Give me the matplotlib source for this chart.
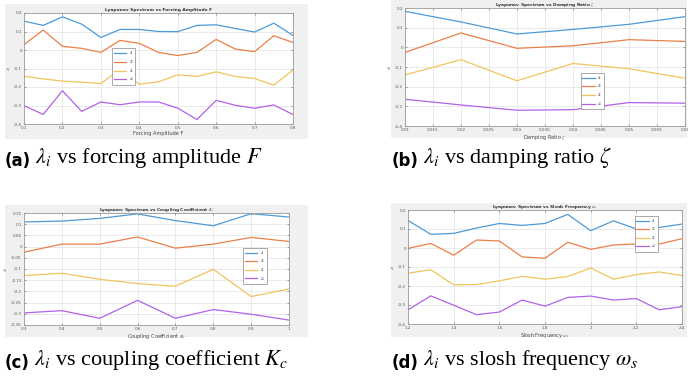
import matplotlib
matplotlib.use("Agg")
import matplotlib.pyplot as plt
from matplotlib.patches import Rectangle

W, H = 688, 381

# ---- data ----
F = [0.1, 0.15, 0.2, 0.25, 0.3, 0.35, 0.4, 0.45, 0.5, 0.55, 0.6, 0.65, 0.7, 0.75, 0.8]
F_l1 = [0.156, 0.133, 0.179, 0.140, 0.068, 0.111, 0.111, 0.100, 0.099, 0.133, 0.136, 0.116, 0.097, 0.145, 0.079]
F_l2 = [0.029, 0.108, 0.020, 0.009, -0.013, 0.052, 0.036, -0.013, -0.030, -0.013, 0.057, 0.005, -0.009, 0.077, 0.041]
F_l3 = [-0.142, -0.156, -0.168, -0.174, -0.181, -0.104, -0.185, -0.172, -0.134, -0.143, -0.118, -0.143, -0.154, -0.190, -0.108]
F_l4 = [-0.301, -0.348, -0.220, -0.332, -0.281, -0.296, -0.281, -0.281, -0.314, -0.376, -0.272, -0.299, -0.315, -0.297, -0.349]

zeta = [0.01, 0.02, 0.03, 0.04, 0.05, 0.06]
z_l1 = [0.183, 0.129, 0.068, 0.091, 0.117, 0.156]
z_l2 = [-0.026, 0.073, -0.005, 0.008, 0.039, 0.030]
z_l3 = [-0.140, -0.063, -0.170, -0.082, -0.109, -0.157]
z_l4 = [-0.264, -0.293, -0.320, -0.317, -0.281, -0.284]

Kc = [0.3, 0.4, 0.5, 0.6, 0.7, 0.8, 0.9, 1.0]
K_l1 = [0.110, 0.114, 0.126, 0.146, 0.116, 0.093, 0.147, 0.132]
K_l2 = [-0.025, 0.011, 0.011, 0.043, -0.007, 0.011, 0.041, 0.023]
K_l3 = [-0.129, -0.119, -0.146, -0.165, -0.177, -0.101, -0.223, -0.189]
K_l4 = [-0.296, -0.286, -0.320, -0.240, -0.320, -0.281, -0.302, -0.328]

ws = [1.2, 1.3, 1.4, 1.5, 1.6, 1.7, 1.8, 1.9, 2.0, 2.1, 2.2, 2.3, 2.4]
w_l1 = [0.145, 0.072, 0.077, 0.105, 0.129, 0.119, 0.129, 0.177, 0.091, 0.143, 0.100, 0.108, 0.126]
w_l2 = [-0.002, 0.024, -0.038, 0.042, 0.037, -0.047, -0.054, 0.030, -0.007, 0.016, 0.021, 0.021, 0.049]
w_l3 = [-0.133, -0.114, -0.194, -0.192, -0.173, -0.149, -0.164, -0.150, -0.105, -0.164, -0.140, -0.126, -0.145]
w_l4 = [-0.325, -0.252, -0.301, -0.351, -0.337, -0.274, -0.306, -0.260, -0.253, -0.274, -0.266, -0.325, -0.309]

names = [r'$\lambda_1$', r'$\lambda_2$', r'$\lambda_3$', r'$\lambda_4$']
colors = ['#4c9bd8', '#ea8048', '#f1c35c', '#b262e6']

panels = [
    dict(x=F, ys=[F_l1, F_l2, F_l3, F_l4],
         title='Lyapunov Spectrum vs Forcing Amplitude F', xlabel='Forcing Amplitude F',
         xlim=(0.1, 0.8), xt=[0.1, 0.2, 0.3, 0.4, 0.5, 0.6, 0.7, 0.8], xtl=None,
         ylim=(-0.4, 0.2), yt=[-0.4, -0.3, -0.2, -0.1, 0, 0.1, 0.2],
         bg=(5, 4, 308, 139), ax=(24, 13, 293, 124), leg=(0.32, 0.70),
         cap='(a)', caprest=r'$\lambda_i$ vs forcing amplitude $F$', cap_xy=(5, 166)),
    dict(x=zeta, ys=[z_l1, z_l2, z_l3, z_l4],
         title=r'Lyapunov Spectrum vs Damping Ratio $\zeta$', xlabel=r'Damping Ratio $\zeta$',
         xlim=(0.01, 0.06), xt=[0.01, 0.015, 0.02, 0.025, 0.03, 0.035, 0.04, 0.045, 0.05, 0.055, 0.06],
         xtl=['0.01', '0.015', '0.02', '0.025', '0.03', '0.035', '0.04', '0.045', '0.05', '0.055', '0.06'],
         ylim=(-0.4, 0.2), yt=[-0.4, -0.3, -0.2, -0.1, 0, 0.1, 0.2],
         bg=(391, 0, 687, 138), ax=(405, 8, 685, 126), leg=(0.62, 0.47),
         cap='(b)', caprest=r'$\lambda_i$ vs damping ratio $\zeta$', cap_xy=(392, 166)),
    dict(x=Kc, ys=[K_l1, K_l2, K_l3, K_l4],
         title=r'Lyapunov Spectrum vs Coupling Coefficient $K_c$', xlabel=r'Coupling Coefficient $K_c$',
         xlim=(0.3, 1.0), xt=[0.3, 0.4, 0.5, 0.6, 0.7, 0.8, 0.9, 1.0],
         xtl=['0.3', '0.4', '0.5', '0.6', '0.7', '0.8', '0.9', '1'],
         ylim=(-0.35, 0.15), yt=[-0.35, -0.3, -0.25, -0.2, -0.15, -0.1, -0.05, 0, 0.05, 0.1, 0.15],
         bg=(5, 205, 308, 337), ax=(24, 213, 289, 325), leg=(0.82, 0.71),
         cap='(c)', caprest=r'$\lambda_i$ vs coupling coefficient $K_c$', cap_xy=(5, 368)),
    dict(x=ws, ys=[w_l1, w_l2, w_l3, w_l4],
         title=r'Lyapunov Spectrum vs Slosh Frequency $\omega_s$', xlabel=r'Slosh Frequency $\omega_s$',
         xlim=(1.2, 2.4), xt=[1.2, 1.4, 1.6, 1.8, 2.0, 2.2, 2.4],
         xtl=['1.2', '1.4', '1.6', '1.8', '2', '2.2', '2.4'],
         ylim=(-0.4, 0.2), yt=[-0.4, -0.3, -0.2, -0.1, 0, 0.1, 0.2],
         bg=(391, 203, 687, 337), ax=(408, 210, 682, 324), leg=(0.82, 0.97),
         cap='(d)', caprest=r'$\lambda_i$ vs slosh frequency $\omega_s$', cap_xy=(392, 368)),
]

plt.rcParams['mathtext.fontset'] = 'stix'

fig = plt.figure(figsize=(W / 100, H / 100), dpi=100)
fig.patch.set_facecolor('white')


def fy(py):
    return 1 - py / H


for p in panels:
    x0, y0, x1, y1 = p['bg']
    fig.patches.append(Rectangle((x0 / W, fy(y1)), (x1 - x0) / W, (y1 - y0) / H,
                                 transform=fig.transFigure, facecolor='#f0f0f0',
                                 edgecolor='none', zorder=-5))
    a0, b0, a1, b1 = p['ax']
    ax = fig.add_axes([a0 / W, fy(b1), (a1 - a0) / W, (b1 - b0) / H])
    ax.set_zorder(2)
    ax.set_facecolor('white')
    for y, c, n in zip(p['ys'], colors, names):
        ax.plot(p['x'], y, color=c, lw=0.9, label=n)
    ax.set_xlim(*p['xlim'])
    ax.set_ylim(*p['ylim'])
    ax.set_xticks(p['xt'])
    if p['xtl'] is not None:
        ax.set_xticklabels(p['xtl'])
    ax.set_yticks(p['yt'])
    ax.set_yticklabels(['0' if abs(v) < 1e-9 else ('%g' % v) for v in p['yt']])
    ax.grid(True, color='#e2e2e2', lw=0.5)
    ax.set_axisbelow(True)
    ax.tick_params(labelsize=3, length=1.2, width=0.4, direction='in', pad=1.5,
                   colors='#555555', top=True, right=True)
    for s in ax.spines.values():
        s.set_color('#9a9a9a')
        s.set_linewidth(0.6)
    ax.set_title(p['title'], fontsize=3.2, fontweight='bold', color='#333333', pad=1.5)
    ax.set_xlabel(p['xlabel'], fontsize=3.6, color='#444444', labelpad=0.5)
    ax.set_ylabel(r'$\lambda_i$', fontsize=3.6, color='#444444', labelpad=1)
    leg = ax.legend(loc='upper left', bbox_to_anchor=p['leg'], fontsize=3,
                    handlelength=3.0, handletextpad=0.6, borderpad=0.35,
                    labelspacing=0.25, fancybox=False, framealpha=1)
    leg.get_frame().set_edgecolor('#9a9a9a')
    leg.get_frame().set_linewidth(0.6)

    cx, cy = p['cap_xy']
    t1 = fig.text(cx / W, fy(cy), p['cap'], fontsize=12, fontweight='bold',
                  family='DejaVu Sans', va='baseline', ha='left')
    fig.add_artist(plt.Annotation(p['caprest'], xy=(1, 0), xycoords=t1,
                                  xytext=(3, 0), textcoords='offset points',
                                  fontsize=16, family='Liberation Serif',
                                  va='bottom', ha='left'))

fig.savefig('out.png', dpi=100)
